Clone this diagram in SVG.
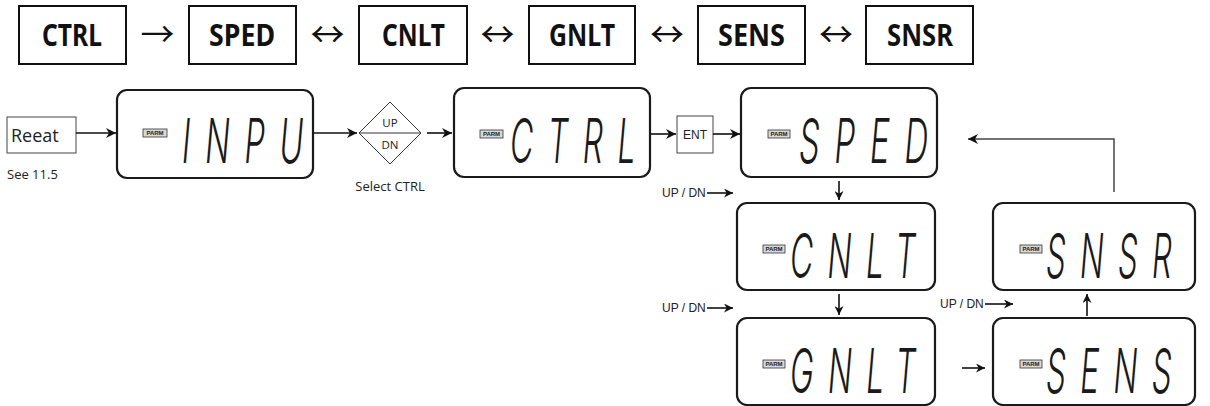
<svg xmlns="http://www.w3.org/2000/svg" width="1210" height="406" viewBox="0 0 1210 406">
<style>
.top{fill:#fff;stroke:#111;stroke-width:2}
.toptx{font-family:"Noto Sans","Noto Sans CJK KR",sans-serif;font-weight:700;font-size:30px;fill:#111}
.arr{font-family:"Noto Sans CJK KR","DejaVu Sans",sans-serif;font-size:34px;text-anchor:middle;fill:#111}
.lcd{fill:#fff;stroke:#1a1a1a;stroke-width:2.2}
.lcdtx{font-family:Inter,"Liberation Sans",sans-serif;font-weight:300;font-style:italic;font-size:62px;letter-spacing:28px;fill:#1a1a1a}
.parm{fill:#d8d8d8;stroke:#333;stroke-width:0.8}
.parmtx{font-family:"Liberation Sans",sans-serif;font-weight:700;font-size:6px;text-anchor:middle;fill:#222}
.lbl{font-family:"Open Sans","Noto Sans",sans-serif;fill:#222}
.ud{font-family:"Liberation Sans",sans-serif;font-size:12px;fill:#222}
.ln{fill:none;stroke:#111;stroke-width:1.6}
.box{fill:#fff;stroke:#444;stroke-width:1}
</style>
<defs>
<marker id="ah" viewBox="0 0 10 10" refX="10" refY="5" markerWidth="9" markerHeight="9" markerUnits="userSpaceOnUse" orient="auto">
<path d="M0,0 L10,5 L0,10 L3,5 z" fill="#111"/>
</marker>
<marker id="ah2" viewBox="0 0 10 10" refX="10" refY="5" markerWidth="10" markerHeight="10" markerUnits="userSpaceOnUse" orient="auto">
<path d="M0,0 L10,5 L0,10 L3,5 z" fill="#111"/>
</marker>
</defs>

<g id="top-ctrl"><rect class="top" x="19" y="6" width="107" height="58"/><text class="toptx" x="42" y="46" textLength="60" lengthAdjust="spacingAndGlyphs">CTRL</text></g>
<g id="top-sped"><rect class="top" x="189" y="6" width="107" height="58"/><text class="toptx" x="209" y="46" textLength="66" lengthAdjust="spacingAndGlyphs">SPED</text></g>
<g id="top-cnlt"><rect class="top" x="359" y="6" width="108" height="58"/><text class="toptx" x="382" y="46" textLength="63" lengthAdjust="spacingAndGlyphs">CNLT</text></g>
<g id="top-gnlt"><rect class="top" x="529" y="6" width="106" height="58"/><text class="toptx" x="549" y="46" textLength="66" lengthAdjust="spacingAndGlyphs">GNLT</text></g>
<g id="top-sens"><rect class="top" x="698" y="6" width="107" height="58"/><text class="toptx" x="718" y="46" textLength="67" lengthAdjust="spacingAndGlyphs">SENS</text></g>
<g id="top-snsr"><rect class="top" x="866" y="6" width="107" height="58"/><text class="toptx" x="887" y="46" textLength="66" lengthAdjust="spacingAndGlyphs">SNSR</text></g>

<g id="top-arrows">
<text class="arr" x="157.5" y="47">→</text>
<text class="arr" x="327.5" y="47">↔</text>
<text class="arr" x="497.5" y="47">↔</text>
<text class="arr" x="667" y="47">↔</text>
<text class="arr" x="836" y="47">↔</text>
</g>

<g id="reeat"><rect class="box" x="7" y="117" width="69" height="36"/><text class="lbl" x="11" y="142" font-size="18">Reeat</text><text class="lbl" x="7" y="179" font-size="13">See 11.5</text></g>

<g id="lcd-inpu"><rect class="lcd" x="117" y="90" width="196" height="88" rx="10"/><rect class="parm" x="143" y="129" width="24" height="8"/><text class="parmtx" x="155" y="135.3">PARM</text><text class="lcdtx" x="182" y="163" textLength="136" lengthAdjust="spacingAndGlyphs">INPU</text></g>

<g id="updn-diamond"><polygon points="359,133 390,102 421,133 390,164" fill="#fff" stroke="#333" stroke-width="1"/><line x1="359" y1="133" x2="421" y2="133" stroke="#333" stroke-width="1"/><text class="lbl" x="390" y="127" font-size="11.5" text-anchor="middle">UP</text><text class="lbl" x="390" y="149" font-size="11.5" text-anchor="middle">DN</text><text class="lbl" x="390" y="191" font-size="13" text-anchor="middle">Select CTRL</text></g>

<g id="lcd-ctrl"><rect class="lcd" x="454" y="88" width="196" height="89" rx="10"/><rect class="parm" x="480" y="130" width="23" height="8"/><text class="parmtx" x="491.5" y="136.3">PARM</text><text class="lcdtx" x="510" y="163" textLength="140" lengthAdjust="spacingAndGlyphs">CTRL</text></g>

<g id="ent"><rect class="box" x="677" y="116" width="36" height="37"/><text class="ud" x="695" y="139" text-anchor="middle">ENT</text></g>

<g id="lcd-sped"><rect class="lcd" x="741" y="88" width="196" height="89" rx="10"/><rect class="parm" x="768" y="130" width="22" height="8"/><text class="parmtx" x="779" y="136.3">PARM</text><text class="lcdtx" x="799" y="163" textLength="144" lengthAdjust="spacingAndGlyphs">SPED</text></g>

<g id="lcd-cnlt"><rect class="lcd" x="737" y="203" width="198" height="87" rx="10"/><rect class="parm" x="763" y="245" width="22" height="8"/><text class="parmtx" x="774" y="251.3">PARM</text><text class="lcdtx" x="790" y="278" textLength="140" lengthAdjust="spacingAndGlyphs">CNLT</text></g>

<g id="lcd-gnlt"><rect class="lcd" x="737" y="318" width="198" height="87" rx="10"/><rect class="parm" x="763" y="360" width="22" height="8"/><text class="parmtx" x="774" y="366.3">PARM</text><text class="lcdtx" x="790" y="393" textLength="140" lengthAdjust="spacingAndGlyphs">GNLT</text></g>

<g id="lcd-snsr"><rect class="lcd" x="993" y="203" width="202" height="87" rx="10"/><rect class="parm" x="1020" y="245" width="22" height="8"/><text class="parmtx" x="1031" y="251.3">PARM</text><text class="lcdtx" x="1046" y="278" textLength="140" lengthAdjust="spacingAndGlyphs">SNSR</text></g>

<g id="lcd-sens"><rect class="lcd" x="993" y="318" width="202" height="87" rx="10"/><rect class="parm" x="1020" y="360" width="22" height="8"/><text class="parmtx" x="1031" y="366.3">PARM</text><text class="lcdtx" x="1046" y="393" textLength="140" lengthAdjust="spacingAndGlyphs">SENS</text></g>

<g id="updn-labels">
<text class="ud" x="662" y="197">UP / DN</text>
<text class="ud" x="662" y="312">UP / DN</text>
<text class="ud" x="940" y="308">UP / DN</text>
</g>

<g id="connectors">
<line class="ln" x1="76" y1="133" x2="116" y2="133" marker-end="url(#ah2)"/>
<line class="ln" x1="313" y1="133" x2="357" y2="133" marker-end="url(#ah2)"/>
<line class="ln" x1="427" y1="133" x2="452" y2="133" marker-end="url(#ah2)"/>
<line class="ln" x1="650" y1="134" x2="676" y2="134" marker-end="url(#ah2)"/>
<line class="ln" x1="713" y1="134" x2="740" y2="134" marker-end="url(#ah2)"/>
<line class="ln" x1="707" y1="193" x2="733" y2="193" marker-end="url(#ah)"/>
<line class="ln" x1="707" y1="308" x2="733" y2="308" marker-end="url(#ah)"/>
<line class="ln" x1="985" y1="304" x2="1013" y2="304" marker-end="url(#ah)"/>
<line class="ln" x1="839" y1="181" x2="839" y2="200" marker-end="url(#ah)"/>
<line class="ln" x1="839" y1="294" x2="839" y2="315" marker-end="url(#ah)"/>
<line class="ln" x1="962" y1="368" x2="985" y2="368" marker-end="url(#ah)"/>
<line class="ln" x1="1087" y1="316" x2="1087" y2="294" marker-end="url(#ah)"/>
<polyline fill="none" stroke="#444" stroke-width="1.5" points="1114,192 1114,139 968,139" marker-end="url(#ah2)"/>
</g>
</svg>
